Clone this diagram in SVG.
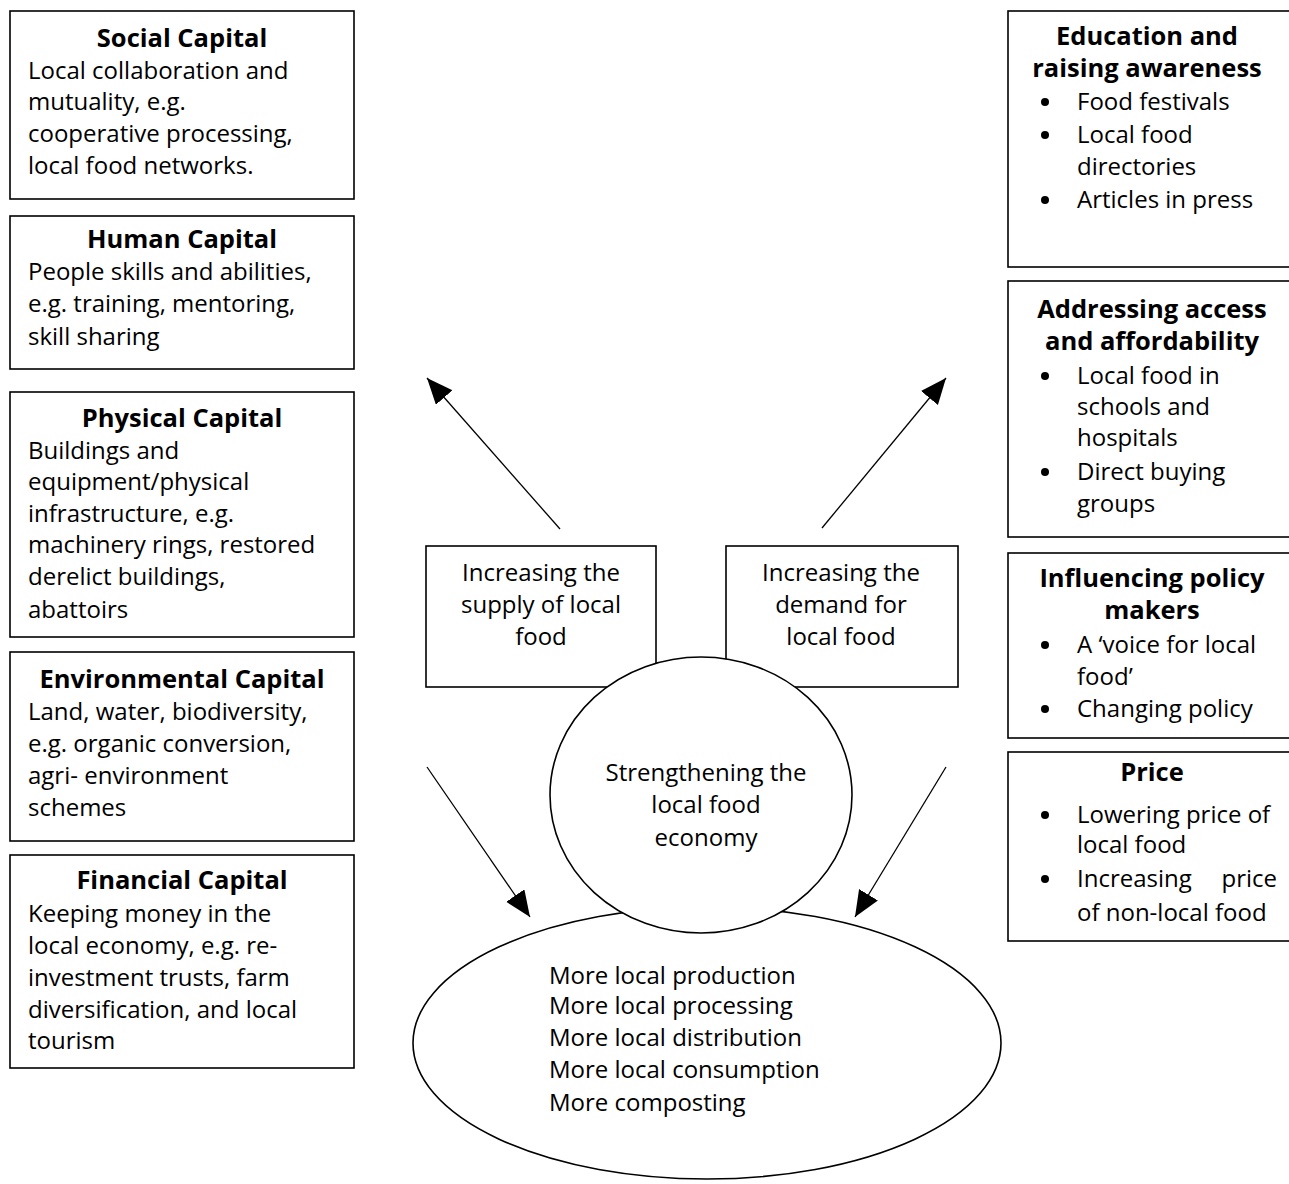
<svg xmlns="http://www.w3.org/2000/svg" width="1289" height="1184" viewBox="0 0 1289 1184">
<defs>
<style>
.box{fill:#fff;stroke:#000;stroke-width:1.6}
.ell{fill:#fff;stroke:#000;stroke-width:1.6}
.t{font-family:"Open Sans","Liberation Sans",sans-serif;font-size:24px;fill:#000}
.b{font-family:"Open Sans","Liberation Sans",sans-serif;font-size:25.5px;font-weight:700;fill:#000}
.c{text-anchor:middle}
.dot{fill:#000}
.con{stroke:#000;stroke-width:1.3;fill:none;marker-end:url(#ah)}
</style>
<marker id="ah" markerUnits="userSpaceOnUse" markerWidth="30" markerHeight="24" refX="26" refY="11" orient="auto">
<path d="M0,0 L26,11 L0,22 Z" fill="#000"/>
</marker>
</defs>
<rect width="1289" height="1184" fill="#fff"/>

<g id="social">
<rect class="box" x="10" y="11" width="344" height="188"/>
<text class="b c" x="182" y="47">Social Capital</text>
<text class="t" x="28" y="79">Local collaboration and</text>
<text class="t" x="28" y="110">mutuality, e.g.</text>
<text class="t" x="28" y="142">cooperative processing,</text>
<text class="t" x="28" y="174">local food networks.</text>
</g>
<g id="human">
<rect class="box" x="10" y="216" width="344" height="153"/>
<text class="b c" x="182" y="248">Human Capital</text>
<text class="t" x="28" y="280">People skills and abilities,</text>
<text class="t" x="28" y="312">e.g. training, mentoring,</text>
<text class="t" x="28" y="345">skill sharing</text>
</g>
<g id="physical">
<rect class="box" x="10" y="392" width="344" height="245"/>
<text class="b c" x="182" y="427">Physical Capital</text>
<text class="t" x="28" y="459">Buildings and</text>
<text class="t" x="28" y="490">equipment/physical</text>
<text class="t" x="28" y="522">infrastructure, e.g.</text>
<text class="t" x="28" y="553">machinery rings, restored</text>
<text class="t" x="28" y="585">derelict buildings,</text>
<text class="t" x="28" y="618">abattoirs</text>
</g>
<g id="environmental">
<rect class="box" x="10" y="652" width="344" height="189"/>
<text class="b c" x="182" y="688">Environmental Capital</text>
<text class="t" x="28" y="720">Land, water, biodiversity,</text>
<text class="t" x="28" y="752">e.g. organic conversion,</text>
<text class="t" x="28" y="784">agri- environment</text>
<text class="t" x="28" y="816">schemes</text>
</g>
<g id="financial">
<rect class="box" x="10" y="855" width="344" height="213"/>
<text class="b c" x="182" y="889">Financial Capital</text>
<text class="t" x="28" y="922">Keeping money in the</text>
<text class="t" x="28" y="954">local economy, e.g. re-</text>
<text class="t" x="28" y="986">investment trusts, farm</text>
<text class="t" x="28" y="1018">diversification, and local</text>
<text class="t" x="28" y="1049">tourism</text>
</g>

<g id="education">
<rect class="box" x="1008" y="11" width="284" height="256"/>
<text class="b c" x="1147" y="45">Education and</text>
<text class="b c" x="1147" y="77">raising awareness</text>
<circle class="dot" cx="1045" cy="102" r="4"/><text class="t" x="1077" y="110">Food festivals</text>
<circle class="dot" cx="1045" cy="135" r="4"/><text class="t" x="1077" y="143">Local food</text>
<text class="t" x="1077" y="175">directories</text>
<circle class="dot" cx="1045" cy="200" r="4"/><text class="t" x="1077" y="208">Articles in press</text>
</g>
<g id="access">
<rect class="box" x="1008" y="281" width="284" height="256"/>
<text class="b c" x="1152" y="318">Addressing access</text>
<text class="b c" x="1152" y="350">and affordability</text>
<circle class="dot" cx="1045" cy="376" r="4"/><text class="t" x="1077" y="384">Local food in</text>
<text class="t" x="1077" y="415">schools and</text>
<text class="t" x="1077" y="446">hospitals</text>
<circle class="dot" cx="1045" cy="472" r="4"/><text class="t" x="1077" y="480">Direct buying</text>
<text class="t" x="1077" y="512">groups</text>
</g>
<g id="policy">
<rect class="box" x="1008" y="553" width="284" height="185"/>
<text class="b c" x="1152" y="587">Influencing policy</text>
<text class="b c" x="1152" y="619">makers</text>
<circle class="dot" cx="1045" cy="645" r="4"/><text class="t" x="1077" y="653">A ‘voice for local</text>
<text class="t" x="1077" y="685">food’</text>
<circle class="dot" cx="1045" cy="709" r="4"/><text class="t" x="1077" y="717">Changing policy</text>
</g>
<g id="price">
<rect class="box" x="1008" y="752" width="284" height="189"/>
<text class="b c" x="1152" y="781">Price</text>
<circle class="dot" cx="1045" cy="815" r="4"/><text class="t" x="1077" y="823">Lowering price of</text>
<text class="t" x="1077" y="853">local food</text>
<circle class="dot" cx="1045" cy="879" r="4"/><text class="t" x="1077" y="887">Increasing <tspan x="1277" text-anchor="end">price</tspan></text>
<text class="t" x="1077" y="921">of non-local food</text>
</g>

<g id="connectors">
<line class="con" x1="560" y1="529" x2="427" y2="378"/>
<line class="con" x1="822" y1="528" x2="946" y2="378"/>
<line class="con" x1="427" y1="767" x2="530" y2="917"/>
<line class="con" x1="946" y1="767" x2="855" y2="917"/>
</g>

<g id="supply">
<rect class="box" x="426" y="546" width="230" height="141"/>
<text class="t c" x="541" y="581">Increasing the</text>
<text class="t c" x="541" y="613">supply of local</text>
<text class="t c" x="541" y="645">food</text>
</g>
<g id="demand">
<rect class="box" x="726" y="546" width="232" height="141"/>
<text class="t c" x="841" y="581">Increasing the</text>
<text class="t c" x="841" y="613">demand for</text>
<text class="t c" x="841" y="645">local food</text>
</g>
<g id="outcomes">
<ellipse class="ell" cx="707" cy="1043" rx="294" ry="136"/>
<text class="t" x="549" y="984">More local production</text>
<text class="t" x="549" y="1014">More local processing</text>
<text class="t" x="549" y="1046">More local distribution</text>
<text class="t" x="549" y="1078">More local consumption</text>
<text class="t" x="549" y="1111">More composting</text>
</g>
<g id="economy">
<ellipse class="ell" cx="701" cy="795" rx="151" ry="138"/>
<text class="t c" x="706" y="781">Strengthening the</text>
<text class="t c" x="706" y="813">local food</text>
<text class="t c" x="706" y="846">economy</text>
</g>
</svg>
